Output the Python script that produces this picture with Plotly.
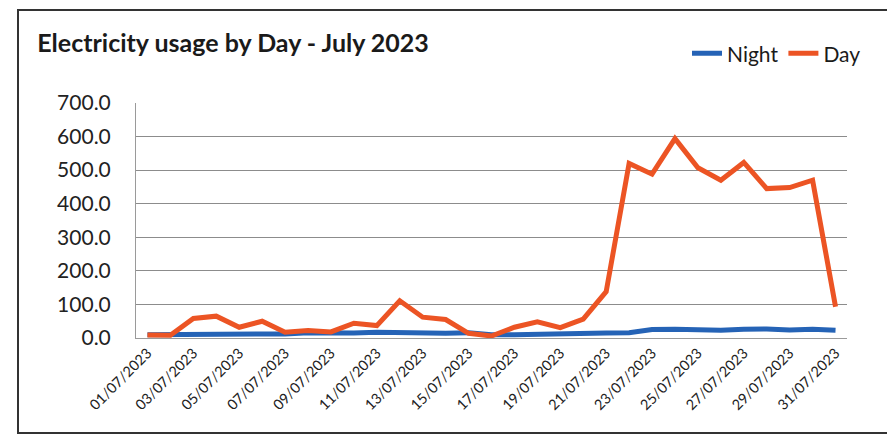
import plotly.graph_objects as go

dates = [f"{d:02d}/07/2023" for d in range(1, 32)]
night = [10, 10, 10, 11, 11, 10, 12, 16, 15, 15, 17, 15, 14, 14, 16, 10, 10, 12, 13, 15, 15,
         16, 25, 26, 24, 23, 26, 27, 24, 26, 23]
day = [9, 8, 58, 65, 32, 50, 17, 22, 18, 44, 37, 111, 62, 55, 14, 6, 32, 48, 31, 56, 138,
       520, 488, 594, 507, 470, 523, 445, 448, 470, 93]
tick_labels = dates[::2]
y_ticks = [0, 100, 200, 300, 400, 500, 600, 700]

FONT = "Lato"

fig = go.Figure()
fig.add_trace(go.Scatter(x=dates, y=night, mode="lines", name="Night",
                         line=dict(color="#2563B6", width=5)))
fig.add_trace(go.Scatter(x=dates, y=day, mode="lines", name="Day",
                         line=dict(color="#EC5424", width=5)))

fig.update_layout(
    width=887, height=437,
    margin=dict(l=136, r=40, t=103, b=99),
    paper_bgcolor="white", plot_bgcolor="white",
    font=dict(family=FONT, color="#222222"),
    title=dict(text="<b>Electricity usage by Day - July 2023</b>",
               x=0.042, xanchor="left", y=0.9, yanchor="middle",
               font=dict(size=25, family=FONT, color="#1a1a1a")),
    legend=dict(orientation="h", x=(866 - 136) / 711, xanchor="right", y=1.21, yanchor="middle",
                font=dict(size=21, family=FONT, color="#1a1a1a"),
                itemwidth=30, tracegroupgap=0, bgcolor="rgba(0,0,0,0)"),
    showlegend=True,
)
fig.update_xaxes(type="category", range=[-0.5, 30.5], tickmode="array",
                 tickvals=tick_labels, ticktext=tick_labels, tickangle=-45,
                 tickfont=dict(size=14.5, family=FONT, color="#222"),
                 showgrid=False, showline=True, linecolor="#9a9a9a", linewidth=1,
                 ticks="", mirror=False)
fig.update_yaxes(range=[0, 700], tickmode="array", tickvals=y_ticks,
                 ticktext=[f"{v:.1f}" for v in y_ticks],
                 tickfont=dict(size=21, family=FONT, color="#222"),
                 showgrid=True, gridcolor="#8c8c8c", gridwidth=1,
                 showline=True, linecolor="#9a9a9a", linewidth=1,
                 zeroline=False, ticks="", ticklabelstandoff=20)
fig.add_shape(type="rect", xref="paper", yref="paper",
              x0=-118/711, x1=(887 - 136 + 5) / 711, y0=-95/235, y1=(338 - 10) / 235,
              line=dict(color="#333333", width=2), fillcolor="rgba(0,0,0,0)", layer="below")

fig.write_html("out.html")
